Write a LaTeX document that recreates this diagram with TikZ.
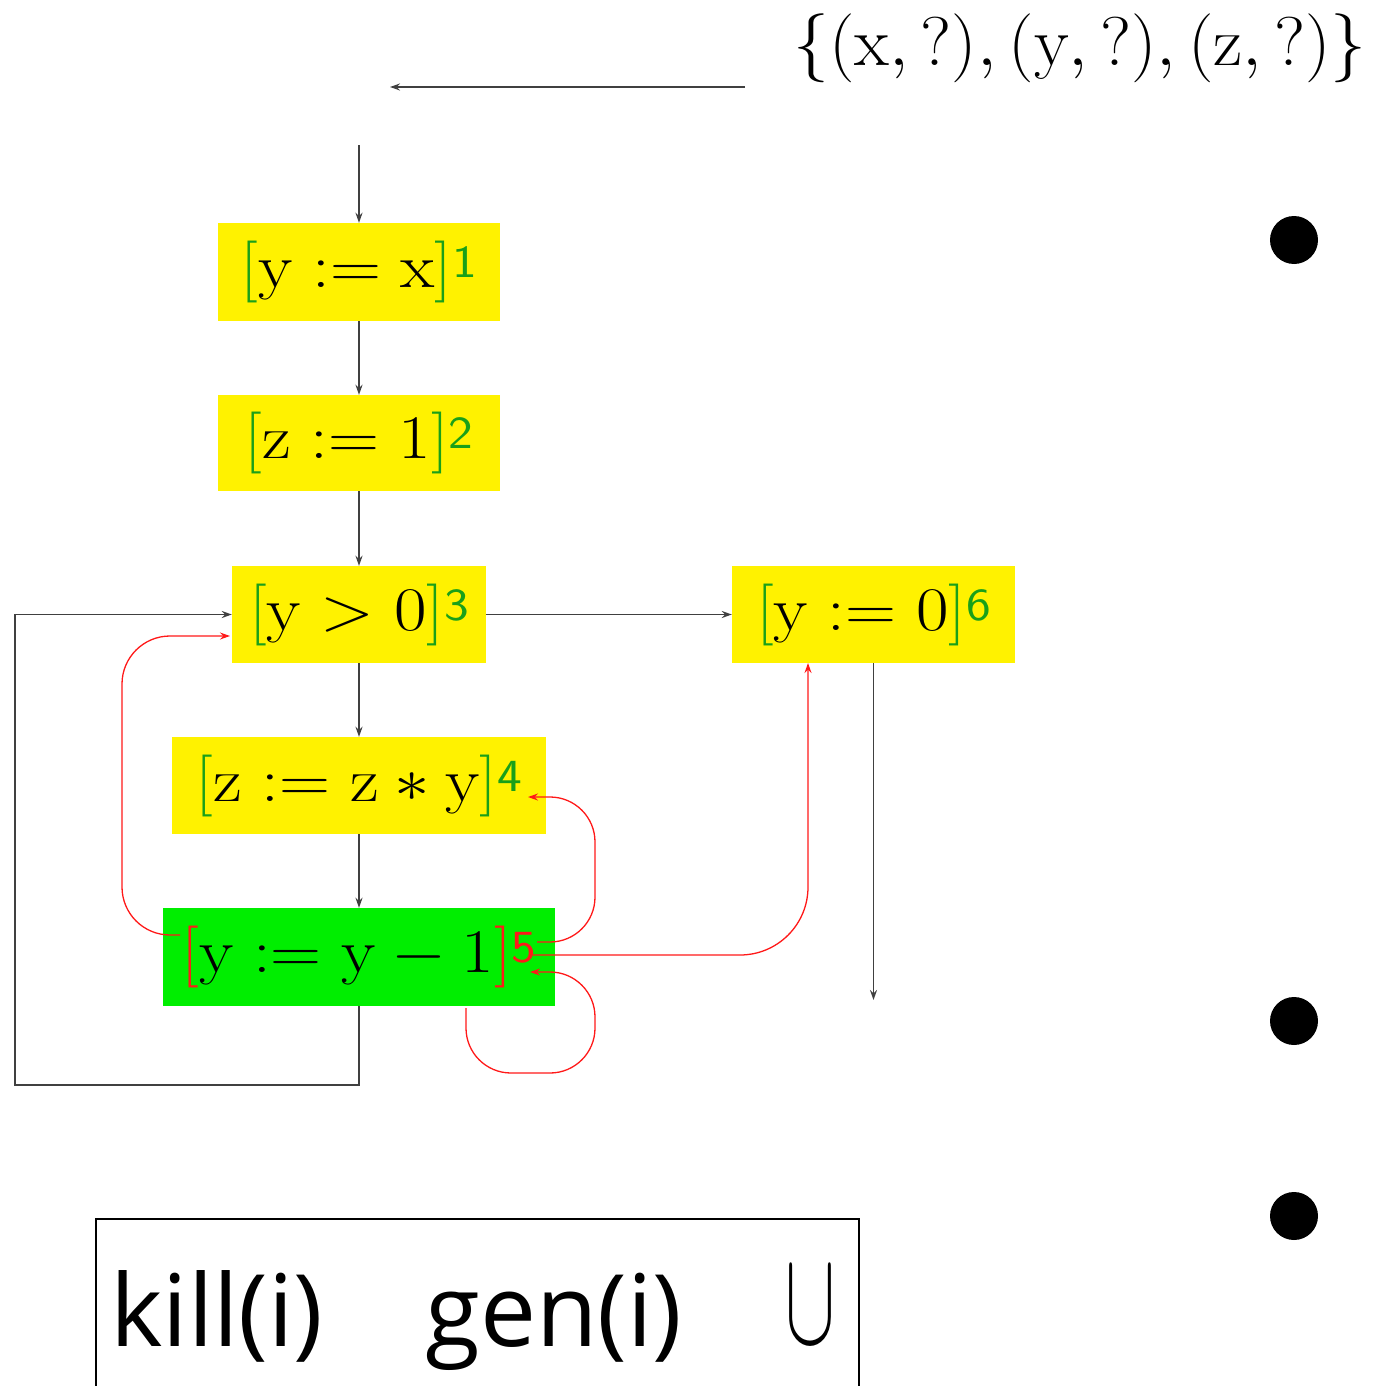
\RequirePackage{fix-cm}
\documentclass[tikz,border=0pt]{standalone}
\usepackage{fontspec}
\newfontfamily\slidefont{Open Sans}
\usetikzlibrary{arrows.meta}
\definecolor{stmtyellow}{RGB}{255,242,0}
\definecolor{stmtgreen}{RGB}{0,238,0}
\definecolor{labgreen}{RGB}{25,160,25}
\definecolor{flowred}{RGB}{255,25,25}
% labelled statement: bracket colour, body, label
\newcommand\stmt[3]{\scalebox{1.14}[1]{\textcolor{#1}{$[$}$\mathrm{#2}$\textcolor{#1}{$]$}%
  \raisebox{10pt}[0pt][0pt]{\textcolor{#1}{\fontsize{46}{46}\selectfont\sffamily #3}}}}
\newcommand\asg{\;{:=}\;}
\begin{document}
\begin{tikzpicture}[x=1pt,y=-1pt,
  block/.style={rectangle, fill=stmtyellow, inner sep=0pt,
    font=\fontsize{62}{64}\selectfont},
  flowline/.style={draw=black!75, line width=1.8pt},
  flow/.style={flowline, -{Stealth[length=10pt,width=7pt]}},
  redflow/.style={draw=flowred, line width=1.3pt, -{Stealth[length=10pt,width=7pt]}},
  dot/.style={circle, fill=black, minimum size=48pt, inner sep=0pt}]
\clip (0,0) rectangle (1376,1386);

% entry value
\node[inner sep=0pt] (init) at (1080,48) {\fontsize{69}{70}\selectfont
  \scalebox{1.04}[1]{$\{(\mathrm{x},?),(\mathrm{y},?),(\mathrm{z},?)\}$}};
\coordinate (src) at (745,87);
\coordinate (dst) at (390,87);
\draw[flow] (src) -- (dst);

% statements
\node[block, minimum width=282pt, minimum height=98pt] (b1) at (359,272) {\stmt{labgreen}{y\asg x}{1}};
\node[block, minimum width=282pt, minimum height=96pt] (b2) at (359,443) {\stmt{labgreen}{z\asg 1}{2}};
\node[block, minimum width=254pt, minimum height=97pt] (b3) at (359,614.5) {\stmt{labgreen}{y > 0}{3}};
\node[block, minimum width=283pt, minimum height=97pt] (b6) at (873.5,614.5) {\stmt{labgreen}{y\asg 0}{6}};
\node[block, minimum width=374pt, minimum height=97pt] (b4) at (359,785.5) {\stmt{labgreen}{z\asg z * y}{4}};
\node[block, fill=stmtgreen, minimum width=392pt, minimum height=98pt] (b5) at (359,957) {\stmt{flowred}{y\asg y - 1}{5}};

% control flow
\coordinate (entry) at (359,145);
\draw[flow] (entry) -- (b1);
\draw[flow] (b1) -- (b2);
\draw[flow] (b2) -- (b3);
\draw[flow] (b3) -- (b4);
\draw[flow] (b4) -- (b5);
\draw[flow] (b3) -- (b6);
\coordinate (exit) at (873.5,1000);
\draw[flow] (b6) -- (exit);
\coordinate (lpA) at (359,1085);
\coordinate (lpB) at (15,1085);
\coordinate (lpC) at (15,614.5);
\draw[flow] (b5.south) -- (lpA) -- (lpB) -- (lpC) -- (b3.west);

% propagation of the value defined at 5
\coordinate (r1s) at (180,935);
\coordinate (r1a) at (122,935);
\coordinate (r1b) at (122,636);
\coordinate (r1e) at (230,636);
\draw[redflow, rounded corners=48pt] (r1s) -- (r1a) -- (r1b) -- (r1e);

\coordinate (r2s) at (537,942);
\coordinate (r2a) at (595,942);
\coordinate (r2b) at (595,797);
\coordinate (r2e) at (528,797);
\draw[redflow, rounded corners=45pt] (r2s) -- (r2a) -- (r2b) -- (r2e);

\coordinate (r3s) at (533,955);
\coordinate (r3a) at (808,955);
\coordinate (r3e) at (808,663);
\draw[redflow, rounded corners=68pt] (r3s) -- (r3a) -- (r3e);

\coordinate (r4s) at (466,1008);
\coordinate (r4a) at (466,1073);
\coordinate (r4b) at (595,1073);
\coordinate (r4c) at (595,972);
\coordinate (r4e) at (530,972);
\draw[redflow, rounded corners=45pt] (r4s) -- (r4a) -- (r4b) -- (r4c) -- (r4e);

% bullets
\node[dot] (p1) at (1294,240) {};
\node[dot] (p2) at (1294,1021) {};
\node[dot] (p3) at (1294,1216) {};

% equation box
\node[draw=black, line width=2pt, minimum width=763pt, minimum height=200pt,
  inner sep=0pt, anchor=north west] (eq) at (95,1218) {};
\node[anchor=base west, inner sep=0pt] (kill) at (110,1346)
  {\slidefont\fontsize{100}{100}\selectfont kill(i)};
\node[anchor=base west, inner sep=0pt] (gen) at (425,1346)
  {\slidefont\fontsize{100}{100}\selectfont gen(i)};
\node[anchor=base west, inner sep=0pt] (cup) at (785,1343)
  {\resizebox{50pt}{75pt}{$\cup$}};
\end{tikzpicture}
\end{document}
